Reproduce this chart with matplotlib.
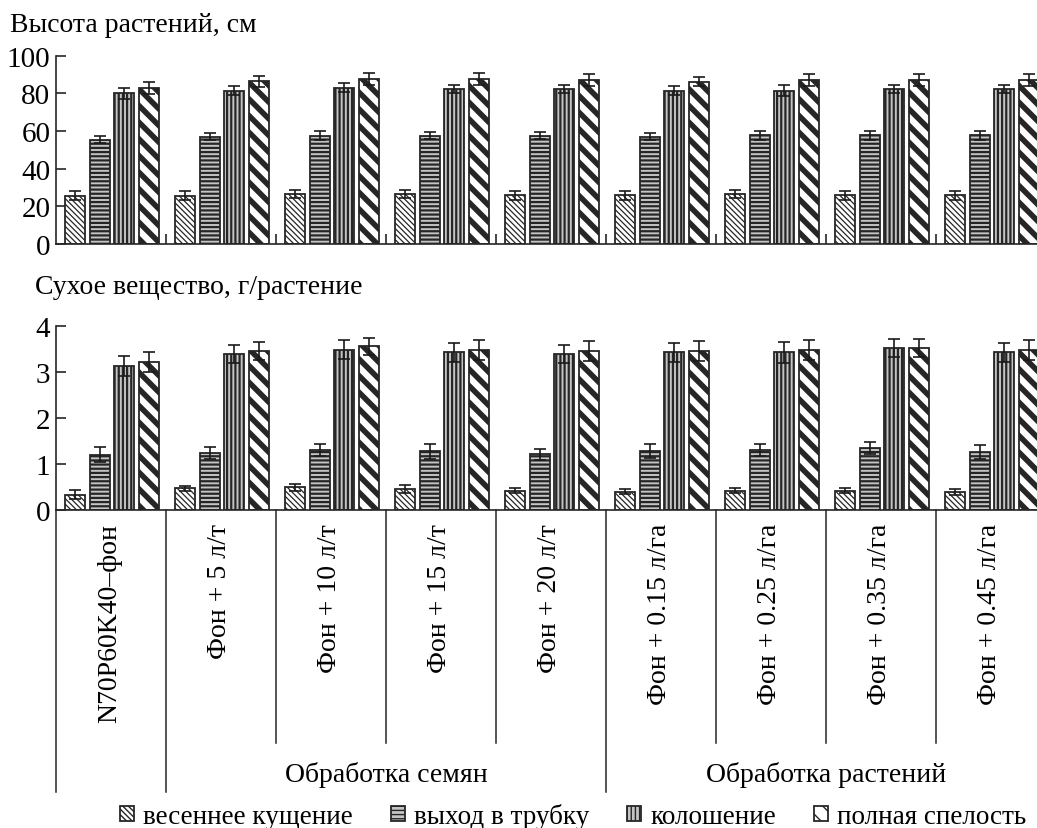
import numpy as np
import matplotlib
matplotlib.use("Agg")
import matplotlib.pyplot as plt
import matplotlib.transforms as mtransforms

plt.rcParams['font.family'] = ['Liberation Serif', 'DejaVu Serif']
plt.rcParams['font.size'] = 20

variants = ["N70P60K40–фон", "Фон + 5 л/т", "Фон + 10 л/т", "Фон + 15 л/т", "Фон + 20 л/т",
            "Фон + 0.15 л/га", "Фон + 0.25 л/га", "Фон + 0.35 л/га", "Фон + 0.45 л/га"]
phases = ["весеннее кущение", "выход в трубку", "колошение", "полная спелость"]

# plant height, cm (rows = phases)
height = [
    [25.6, 25.6, 26.5, 26.5, 25.8, 25.8, 26.5, 25.8, 25.8],
    [55.4, 57.0, 57.5, 57.5, 57.5, 57.0, 57.7, 57.7, 57.7],
    [80.0, 81.4, 83.0, 82.3, 82.3, 81.4, 81.4, 82.3, 82.3],
    [83.0, 86.4, 87.8, 87.8, 87.1, 86.2, 87.1, 87.1, 87.1],
]
height_err = [
    [2.3, 2.3, 2.3, 2.3, 2.3, 2.3, 2.0, 2.3, 2.3],
    [2.0, 1.8, 2.3, 1.8, 1.8, 2.0, 2.3, 2.3, 2.3],
    [3.0, 2.5, 2.5, 2.3, 2.3, 2.5, 3.0, 2.3, 2.3],
    [3.2, 3.0, 3.2, 3.2, 3.2, 2.5, 3.2, 3.2, 3.2],
]

# dry matter, g/plant
dry = [
    [0.33, 0.47, 0.49, 0.46, 0.42, 0.40, 0.42, 0.42, 0.39],
    [1.20, 1.24, 1.30, 1.27, 1.21, 1.28, 1.31, 1.34, 1.25],
    [3.12, 3.38, 3.48, 3.42, 3.38, 3.42, 3.42, 3.51, 3.42],
    [3.22, 3.45, 3.55, 3.48, 3.45, 3.45, 3.48, 3.51, 3.48],
]
dry_err = [
    [0.10, 0.06, 0.07, 0.09, 0.06, 0.06, 0.06, 0.06, 0.06],
    [0.16, 0.13, 0.13, 0.16, 0.12, 0.16, 0.13, 0.13, 0.15],
    [0.22, 0.20, 0.20, 0.20, 0.20, 0.20, 0.22, 0.20, 0.20],
    [0.22, 0.20, 0.19, 0.22, 0.22, 0.22, 0.22, 0.20, 0.22],
]

groups = ["Обработка семян", "Обработка растений"]

styles = [
    dict(facecolor="white", hatch="\\" * 6, hlw=0.9),
    dict(facecolor="#c4c4c4", hatch="----", hlw=1.6),
    dict(facecolor="#c4c4c4", hatch="||||", hlw=1.6),
    dict(facecolor="white", hatch="\\\\", hlw=4.0),
]
edge = "#262626"

fig = plt.figure(figsize=(10.37, 8.29), dpi=100)
W, H = 1037.0, 829.0
ax1 = fig.add_axes([56 / W, 1 - 245 / H, 990 / W, (245 - 56.7) / H])
ax2 = fig.add_axes([56 / W, 1 - 511 / H, 990 / W, (511 - 326.7) / H])

x = np.arange(len(variants)) + 0.5
width = 0.182
step = 0.224


def draw(ax, vals, errs):
    handles = []
    for k in range(4):
        st = styles[k]
        pos = x + (k - 1.5) * step + 0.008
        with plt.rc_context({'hatch.linewidth': st['hlw'], 'hatch.color': edge}):
            bars = ax.bar(pos, vals[k], width, facecolor=st['facecolor'], edgecolor=edge,
                          hatch=st['hatch'], linewidth=1.3, label=phases[k], zorder=2)
            for p in bars:
                if hasattr(p, 'set_hatch_linewidth'):
                    p.set_hatch_linewidth(st['hlw'])
        ax.errorbar(pos, vals[k], yerr=errs[k], fmt='none', ecolor='#1a1a1a',
                    elinewidth=1.2, capsize=4, capthick=1.2, zorder=3)
        handles.append(bars)
    ax.set_xlim(0, len(variants))
    for s in ["top", "right"]:
        ax.spines[s].set_visible(False)
    for s in ["left", "bottom"]:
        ax.spines[s].set_linewidth(1.2)
        ax.spines[s].set_color(edge)
    ax.tick_params(axis='y', direction='in', length=7, width=1.2, pad=4, color=edge,
                   labelsize=21)
    return handles


handles = draw(ax1, height, height_err)
ax1.set_ylim(0, 100)
ax1.set_yticks(np.arange(0, 101, 20))
ax1.set_xticks(np.arange(1, len(variants)))
ax1.set_xticklabels([])
ax1.tick_params(axis='x', direction='in', length=7, width=1.2, color=edge)

draw(ax2, dry, dry_err)
ax2.set_ylim(0, 4)
ax2.set_yticks(np.arange(0, 5, 1))
ax2.set_xticks([])

fig.text(10 / W, 1 - 26 / H, "Высота растений, см", va='center', ha='left', fontsize=20)
fig.text(35 / W, 1 - 288 / H, "Сухое вещество, г/растение", va='center', ha='left', fontsize=20)

# category table below the lower panel
tr = mtransforms.blended_transform_factory(ax2.transData, fig.transFigure)
y_axis = 1 - 511 / H
for b in range(len(variants) + 1):
    long_line = b in (0, 1, 5, 9)
    y_end = 1 - (793 if long_line else 744) / H
    ax2.plot([b, b], [y_axis, y_end], transform=tr, color=edge, lw=1.1, clip_on=False)
for i, name in enumerate(variants):
    ax2.text(x[i] - 0.015, 1 - 524 / H, name, transform=tr, rotation=90, ha='center', va='top',
             fontsize=20)
ax2.text(3, 1 - 775 / H, groups[0], transform=tr, ha='center', va='center', fontsize=20)
ax2.text(7, 1 - 775 / H, groups[1], transform=tr, ha='center', va='center', fontsize=20)

fig.legend(handles, phases, loc='center', bbox_to_anchor=(573 / W, 1 - 817 / H), ncol=4,
           frameon=False, handlelength=0.52, handleheight=0.52, handletextpad=0.33,
           columnspacing=1.4, borderpad=0, fontsize=19.5)

fig.savefig("out.png", dpi=100)
